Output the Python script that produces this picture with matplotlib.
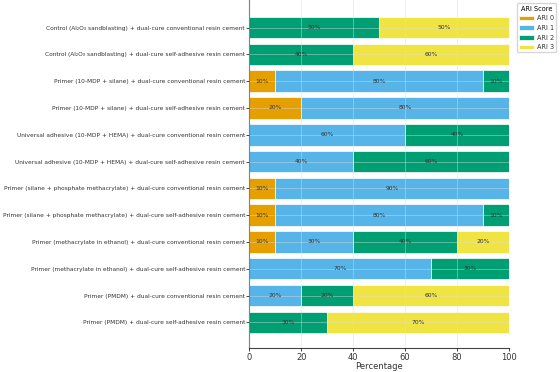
import numpy as np
import matplotlib.pyplot as plt

# groups (top to bottom) and ARI score distribution in percent
groups = [
    'Control (Al₂O₃ sandblasting) + dual-cure conventional resin cement',
    'Control (Al₂O₃ sandblasting) + dual-cure self-adhesive resin cement',
    'Primer (10-MDP + silane) + dual-cure conventional resin cement',
    'Primer (10-MDP + silane) + dual-cure self-adhesive resin cement',
    'Universal adhesive (10-MDP + HEMA) + dual-cure conventional resin cement',
    'Universal adhesive (10-MDP + HEMA) + dual-cure self-adhesive resin cement',
    'Primer (silane + phosphate methacrylate) + dual-cure conventional resin cement',
    'Primer (silane + phosphate methacrylate) + dual-cure self-adhesive resin cement',
    'Primer (methacrylate in ethanol) + dual-cure conventional resin cement',
    'Primer (methacrylate in ethanol) + dual-cure self-adhesive resin cement',
    'Primer (PMDM) + dual-cure conventional resin cement',
    'Primer (PMDM) + dual-cure self-adhesive resin cement',
]
ari0 = [0, 0, 10, 20, 0, 0, 10, 10, 10, 0, 0, 0]
ari1 = [0, 0, 80, 80, 60, 40, 90, 80, 30, 70, 20, 0]
ari2 = [50, 40, 10, 0, 40, 60, 0, 10, 40, 30, 20, 30]
ari3 = [50, 60, 0, 0, 0, 0, 0, 0, 20, 0, 60, 70]

series = [ari0, ari1, ari2, ari3]
names = ['ARI 0', 'ARI 1', 'ARI 2', 'ARI 3']
colors = ['#E69F00', '#56B4E9', '#009E73', '#F0E442']

fig, ax = plt.subplots(figsize=(5.6, 3.72), dpi=100)
y = np.arange(len(groups))
left = np.zeros(len(groups))
for vals, name, col in zip(series, names, colors):
    vals = np.array(vals, dtype=float)
    ax.barh(y, vals, left=left, height=0.8, color=col, label=name,
            edgecolor='white', linewidth=0.5, zorder=2)
    for yi, (l, v) in enumerate(zip(left, vals)):
        if v > 0:
            ax.text(l + v / 2, yi, f'{int(v)}%', ha='center', va='center',
                    fontsize=4.3, color='#333333', zorder=4)
    left += vals

ax.set_yticks(y)
ax.set_yticklabels(groups, fontsize=4.2, color='#333333')
ax.set_xlim(0, 100)
ax.set_ylim(len(groups) - 1 + 0.95, -1.03)
ax.set_xticks([0, 20, 40, 60, 80, 100])
ax.tick_params(axis='x', labelsize=6, length=2, width=0.5, pad=1.5, labelcolor='#333333')
ax.tick_params(axis='y', length=2, width=0.5, pad=1)
ax.set_xlabel('Percentage', fontsize=6, labelpad=0.5, color='#333333')
ax.grid(True, color='#dddddd', linewidth=0.5, alpha=0.6, zorder=3)
ax.set_axisbelow(False)
for s in ['top', 'right']:
    ax.spines[s].set_visible(False)
for s in ['left', 'bottom']:
    ax.spines[s].set_linewidth(0.8)
    ax.spines[s].set_color('#444444')

ax.legend(title='ARI Score', loc='upper left', bbox_to_anchor=(1.031, 0.99),
          fontsize=4.7, title_fontsize=4.7, handlelength=2.2, frameon=True,
          borderpad=0.35, labelspacing=0.55, handletextpad=0.45,
          borderaxespad=0, labelcolor='#333333')

plt.subplots_adjust(left=0.445, right=0.909, top=1.0, bottom=0.065)
plt.savefig('out.png', dpi=100)
